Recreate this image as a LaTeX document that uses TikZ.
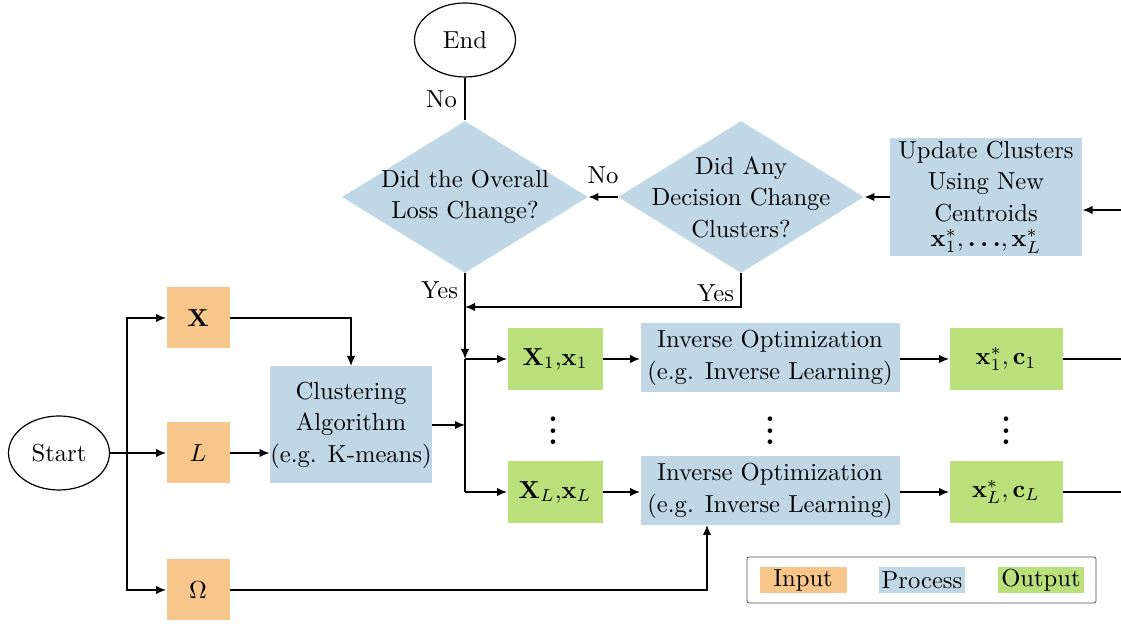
\documentclass[tikz,border=0pt]{standalone}
\usepackage{amsmath}
\usetikzlibrary{shapes.geometric,arrows.meta,calc}
\definecolor{cin}{RGB}{247,198,138}
\definecolor{cpr}{RGB}{192,216,230}
\definecolor{cout}{RGB}{185,224,122}
\def\px{0.4065pt}
\begin{document}
\begin{tikzpicture}[x=0.4065pt,y=-0.4065pt,
  every node/.style={font=\fontsize{10}{12.8}\selectfont, inner sep=0pt},
  inbox/.style={fill=cin, minimum width=63*\px, minimum height=61*\px},
  prbox/.style={fill=cpr, align=center},
  outbox/.style={fill=cout, minimum width=95*\px, minimum height=62*\px},
  term/.style={ellipse, draw, line width=1.2*\px, minimum width=101*\px, minimum height=74*\px},
  dec/.style={diamond, fill=cpr, minimum width=246*\px, minimum height=152*\px},
  arr/.style={-{Latex[length=10*\px,width=8.5*\px]}, line width=1.6*\px},
  ln/.style={line width=1.6*\px},
  vdotsn/.style={scale=1.2, font=\fontsize{10}{12.8}\selectfont\bfseries}
]
\useasboundingbox (0,0) rectangle (1121,624);

% terminals
\node[term] (end) at (465,40) {End};
\node[term] (start) at (59,453) {Start};

% decisions
\node[dec, label={[align=center]center:Did the Overall\\Loss Change?}] (d1) at (465,197) {};
\node[dec, label={[align=center]center:Did Any\\Decision Change\\Clusters?}] (d2) at (741,197) {};

% update
\node[prbox, minimum width=192*\px, minimum height=118*\px] (upd) at (986,197)
  {Update Clusters\\Using New\\Centroids\\[-2.5pt]$\mathbf{x}_1^*,\boldsymbol{\ldots},\mathbf{x}_L^*$};

% inputs
\node[inbox] (X) at (198,318) {$\mathbf{X}$};
\node[inbox] (L) at (198,453) {$L$};
\node[inbox] (Om) at (198,590) {$\Omega$};

% clustering
\node[prbox, minimum width=162*\px, minimum height=117*\px] (clu) at (351,425)
  {Clustering\\Algorithm\\(e.g. K-means)};

% cluster rows
\node[outbox] (X1) at (555,359) {$\mathbf{X}_1$,$\mathbf{x}_1$};
\node[outbox] (XL) at (555,492) {$\mathbf{X}_L$,$\mathbf{x}_L$};
\node[prbox, minimum width=259*\px, minimum height=69*\px] (inv1) at (770,358)
  {Inverse Optimization\\(e.g. Inverse Learning)};
\node[prbox, minimum width=259*\px, minimum height=69*\px] (inv2) at (770,491)
  {Inverse Optimization\\(e.g. Inverse Learning)};
\node[outbox, minimum width=113*\px] (o1) at (1006,359) {$\mathbf{x}_1^*, \mathbf{c}_1$};
\node[outbox, minimum width=113*\px] (oL) at (1006,492) {$\mathbf{x}_L^*, \mathbf{c}_L$};

\node[vdotsn] (v1) at (553,422) {$\vdots$};
\node[vdotsn] (v2) at (770,422) {$\vdots$};
\node[vdotsn] (v3) at (1006,422) {$\vdots$};

% coordinates
\coordinate (split) at (127,453);
\coordinate (bt) at (465,359);
\coordinate (bb) at (465,492);
\coordinate (yj) at (465,307);
\coordinate (inR) at (1121,210);
\coordinate (r1) at (1121,359);
\coordinate (rL) at (1121,492);
\coordinate (omup) at (707,525);

% connectors
\draw[ln] (end.south) -- node[left=3pt] {No} (d1.north);
\draw[arr] (d2.west) -- node[above=5pt] {No} (d1.east);
\draw[arr] (upd.west) -- (d2.east);
\draw[arr] (inR) -- (inR -| upd.east);
\draw[arr] (d2.south) |- node[pos=0.3, left=2.5pt] {Yes} (yj);
\draw[arr] (d1.south) -- node[pos=0.2, left=2.5pt] {Yes} (bt);
\draw[ln] (bt) -- (bb);
\draw[arr] (bt) -- (X1.west);
\draw[arr] (bb) -- (XL.west);
\draw[arr] (clu.east) -- (clu.east -| bt);
\draw[arr] (X1) -- (X1 -| inv1.west);
\draw[arr] (XL) -- (XL -| inv2.west);
\draw[arr] (o1 -| inv1.east) -- (o1.west);
\draw[arr] (oL -| inv2.east) -- (oL.west);
\draw[ln] (o1.east) -- (r1);
\draw[ln] (oL.east) -- (rL);

\draw[arr] (start.east) -- (L.west);
\draw[arr] (split) |- (X.west);
\draw[arr] (split) |- (Om.west);
\draw[arr] (X.east) -| (clu.north);
\draw[arr] (L.east) -- (L.east -| clu.west);
\draw[arr] (Om.east) -| (omup);

% legend
\node[draw=black!70, line width=0.8*\px, rounded corners=2*\px, minimum width=349*\px, minimum height=46*\px] (leg) at (921.5,580) {};
\node[fill=cin, minimum width=87*\px, minimum height=26*\px] (li) at (803,580) {Input};
\node[fill=cpr, minimum width=86*\px, minimum height=26*\px] (lp) at (922,580) {Process};
\node[fill=cout, minimum width=86*\px, minimum height=26*\px] (lo) at (1041,580) {Output};
\end{tikzpicture}
\end{document}
